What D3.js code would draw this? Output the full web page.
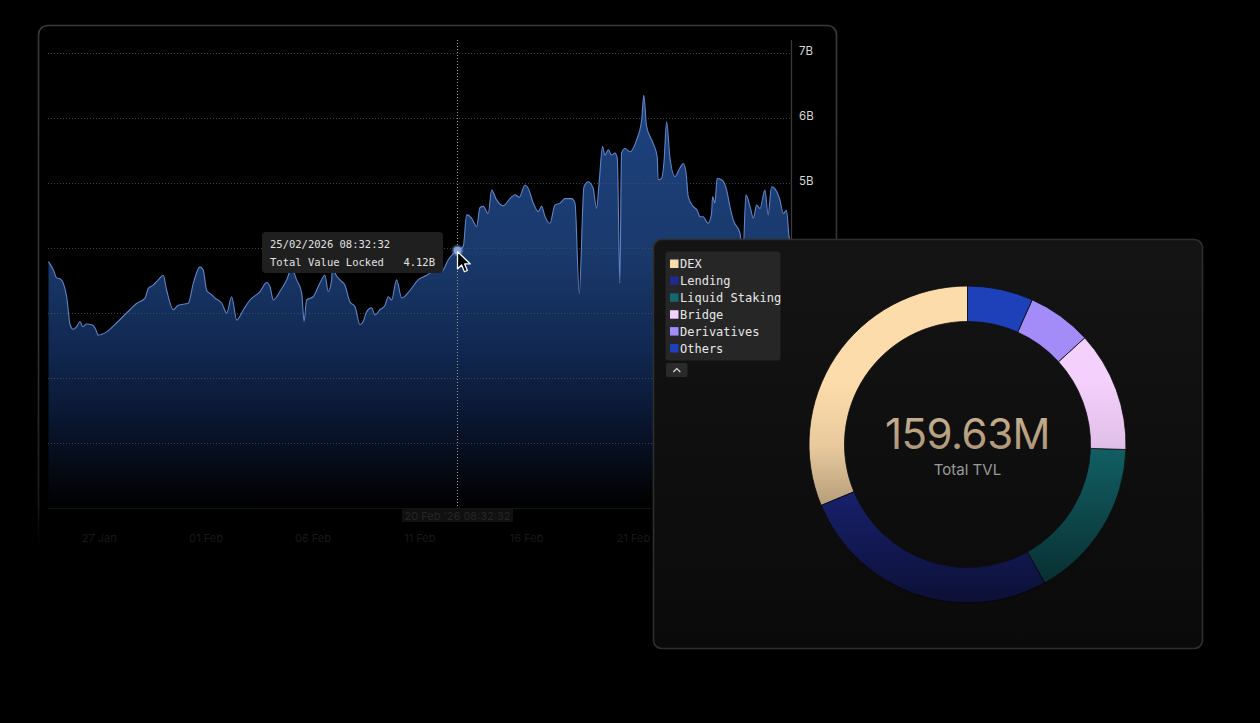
<!DOCTYPE html>
<html><head><meta charset="utf-8">
<script src="https://cdn.jsdelivr.net/npm/d3@7"></script>
<style>html,body{margin:0;padding:0;background:#000;overflow:hidden}svg{display:block}</style>
</head><body>
<svg id="c" width="1260" height="723"></svg>
<script>
// ---------------- DATA ----------------
const startTime = new Date(2026, 0, 24, 15, 30);
const endTime = new Date(2026, 1, 28, 9, 30);
// fractional days since startTime
const tvlDay = [
  0, 0.23, 0.38, 0.57, 0.69, 0.85, 1.01, 1.16, 1.32, 1.47,
  1.60, 1.79, 2.02, 2.18, 2.33, 2.72, 3.19, 3.81, 4.13, 4.52,
  4.67, 4.90, 5.14, 5.37, 5.53, 5.84, 6.07, 6.54, 6.78, 7.09,
  7.24, 7.40, 7.64, 7.79, 8.11, 8.34, 8.57, 8.81, 9.12, 9.43,
  9.90, 10.21, 10.37, 10.52, 10.83, 11.15, 11.38, 11.61, 11.85, 11.96,
  12.08, 12.39, 12.70, 12.94, 13.09, 13.25, 13.30, 13.41, 13.64, 13.87,
  14.11, 14.34, 14.58, 14.73, 14.89, 15.12, 15.28, 15.51, 15.75, 15.90,
  16.06, 16.29, 16.53, 16.92, 17.30, 17.70, 18.01, 18.40, 18.71, 19.10,
  19.41, 19.57, 19.80, 20.04, 20.19, 20.35, 20.58, 20.74, 20.97, 21.28,
  21.60, 21.83, 22.03, 22.30, 22.45, 22.69, 22.92, 23.08, 23.23, 23.47,
  23.70, 23.94, 24.17, 24.48, 24.64, 24.84, 25.06, 25.26, 25.49, 25.65,
  25.77, 25.93, 26.04, 26.20, 26.35, 26.51, 26.62, 26.74, 26.82, 26.98,
  27.21, 27.52, 27.76, 27.86, 27.99, 28.30, 28.49, 28.53, 28.69, 28.80,
  28.93, 29.08, 29.32, 29.55, 29.71, 29.84, 29.94, 30.17, 30.36, 30.49,
  30.64, 30.87, 31.03, 31.08, 31.19, 31.29, 31.50, 31.74, 31.89, 32.05,
  32.36, 32.50, 32.64, 32.83, 32.99, 33.14, 33.30, 33.53, 33.68, 33.84,
  34.08, 34.23, 34.39, 34.54, 34.66, 34.75
];
// total value locked, billions
const tvlValue = [
  3.79, 3.66, 3.54, 3.52, 3.46, 3.25, 2.82, 2.75, 2.79, 2.87,
  2.79, 2.83, 2.82, 2.77, 2.66, 2.71, 2.85, 3.05, 3.15, 3.23,
  3.38, 3.43, 3.51, 3.58, 3.35, 3.05, 3.12, 3.15, 3.46, 3.71,
  3.66, 3.35, 3.28, 3.23, 3.15, 3.00, 3.25, 2.89, 3.05, 3.20,
  3.33, 3.47, 3.40, 3.20, 3.33, 3.51, 3.69, 3.51, 3.31, 2.87,
  3.20, 3.25, 3.46, 3.58, 3.33, 3.51, 3.78, 3.62, 3.51, 3.43,
  3.17, 3.10, 2.82, 2.87, 3.02, 3.08, 2.97, 3.05, 3.12, 3.25,
  3.20, 3.51, 3.23, 3.35, 3.51, 3.58, 3.64, 3.64, 3.82, 3.96,
  4.02, 4.51, 4.46, 4.33, 4.62, 4.64, 4.53, 4.89, 4.74, 4.65,
  4.76, 4.82, 4.78, 4.97, 4.92, 4.69, 4.56, 4.64, 4.49, 4.38,
  4.66, 4.69, 4.76, 4.76, 4.69, 3.30, 4.94, 5.02, 4.92, 4.61,
  5.00, 5.56, 5.43, 5.51, 5.43, 5.46, 5.38, 3.46, 5.46, 5.53,
  5.48, 5.66, 5.97, 6.35, 5.87, 5.61, 5.40, 5.05, 5.07, 5.30,
  5.94, 5.40, 5.10, 5.23, 5.30, 5.15, 4.79, 4.64, 4.58, 4.48,
  4.48, 4.38, 4.53, 4.79, 4.69, 5.07, 5.05, 4.89, 4.64, 4.43,
  4.23, 3.89, 4.82, 4.64, 4.46, 4.66, 4.61, 4.89, 4.51, 4.94,
  4.87, 4.74, 4.53, 4.58, 4.17, 4.05
];
const yTickValues = [1, 2, 3, 4, 5, 6, 7];
const xTickDates = [new Date(2026,0,27), new Date(2026,1,1), new Date(2026,1,6), new Date(2026,1,11), new Date(2026,1,16), new Date(2026,1,21)];
const hoverIndex = 79;
const tooltipDate = "25/02/2026 08:32:32";
const tooltipLabel = "Total Value Locked";
const tooltipValue = "4.12B";
const crosshairLabel = "20 Feb '26 08:32:32";

const categories = ["DEX", "Lending", "Liquid Staking", "Bridge", "Derivatives", "Others"];
const categoryValues = [49.93, 42.83, 26.16, 19.56, 10.47, 10.68];
const categoryColors = ["#fddcab", "#1f2a8c", "#13686d", "#f4d0fc", "#a38cf7", "#1e40b8"];
const totalLabel = "159.63M";
const totalCaption = "Total TVL";

// ---------------- DRAW ----------------
const svg = d3.select("#c");
const defs = svg.append("defs");
const sans = "Inter, Roboto, 'Noto Sans', sans-serif";
const mono = "'DejaVu Sans Mono', 'Liberation Mono', monospace";

const series = tvlDay.map((d, i) => ({ t: new Date(startTime.getTime() + d * 864e5), v: tvlValue[i] }));

const x = d3.scaleTime().domain([startTime, endTime]).range([48.5, 791]);
const y = d3.scaleLinear().domain([0, 7]).range([508, 53]);

// gradients
const ag = defs.append("linearGradient").attr("id", "areaGrad")
  .attr("gradientUnits", "userSpaceOnUse").attr("x1", 0).attr("x2", 0).attr("y1", 90).attr("y2", 508);
[[0, "#1e4280"], [0.38, "#1a3a6d"], [0.62, "#112851"], [0.8, "#09152e"], [0.94, "#03060c"], [1, "#000"]]
  .forEach(s => ag.append("stop").attr("offset", s[0]).attr("stop-color", s[1]));

const bg = defs.append("linearGradient").attr("id", "borderGrad")
  .attr("gradientUnits", "userSpaceOnUse").attr("x1", 0).attr("x2", 0).attr("y1", 25).attr("y2", 560);
[[0, "#3a3a3a", 1], [0.6, "#333", 1], [0.9, "#1a1a1a", 1], [1, "#000", 0]]
  .forEach(s => bg.append("stop").attr("offset", s[0]).attr("stop-color", s[1]).attr("stop-opacity", s[2]));

// left panel
svg.append("rect").attr("x", 38.5).attr("y", 25.5).attr("width", 798).attr("height", 560)
  .attr("rx", 9).attr("fill", "#000").attr("stroke", "url(#borderGrad)").attr("stroke-width", 1.6);

const chart = svg.append("g");

// area
const area = d3.area().x(d => x(d.t)).y0(y(0)).y1(d => y(d.v)).curve(d3.curveMonotoneX);
const line = d3.line().x(d => x(d.t)).y(d => y(d.v)).curve(d3.curveMonotoneX);
chart.append("path").datum(series).attr("d", area).attr("fill", "url(#areaGrad)");

// gridlines (over the area)
chart.selectAll(".grid").data(yTickValues).join("line")
  .attr("x1", 48).attr("x2", 791).attr("y1", d => y(d) + 0.5).attr("y2", d => y(d) + 0.5)
  .attr("stroke", "#4a4f58").attr("stroke-opacity", 0.8).attr("stroke-width", 1).attr("stroke-dasharray", "1,2");
chart.append("line").attr("x1", 48).attr("x2", 791).attr("y1", y(0) + 0.5).attr("y2", y(0) + 0.5)
  .attr("stroke", "#131313");

chart.append("path").datum(series).attr("d", line).attr("fill", "none")
  .attr("stroke", "#5f84c8").attr("stroke-width", 1.1);

// y axis line + labels
chart.append("line").attr("x1", 791.5).attr("x2", 791.5).attr("y1", 40).attr("y2", 508)
  .attr("stroke", "#3c3c3c").attr("stroke-width", 1.2);
const yAxis = d3.axisRight(y).tickValues(yTickValues).tickSize(0).tickPadding(0).tickFormat(d => d + "B");
const yg = chart.append("g").attr("transform", "translate(799,-2)").call(yAxis);
yg.select(".domain").remove();
yg.selectAll("text").attr("fill", "#d6d6d6").attr("font-family", sans).attr("font-size", 11.5);

// x axis labels
const xAxis = d3.axisBottom(x).tickValues(xTickDates).tickSize(0).tickPadding(0).tickFormat(d3.timeFormat("%d %b"));
const xg = chart.append("g").attr("transform", "translate(0,534)").call(xAxis);
xg.select(".domain").remove();
xg.selectAll("text").attr("fill", "#191919").attr("font-family", sans).attr("font-size", 11);

// crosshair
const hp = series[hoverIndex];
const hx = Math.round(x(hp.t)) + 0.5, hy = y(hp.v);
chart.append("line").attr("x1", hx).attr("x2", hx).attr("y1", 40).attr("y2", 508)
  .attr("stroke", "#9a9a9a").attr("stroke-width", 1).attr("stroke-dasharray", "1,2");
chart.append("rect").attr("x", hx - 55.5).attr("y", 509).attr("width", 111).attr("height", 13)
  .attr("fill", "#101010");
chart.append("text").attr("x", hx).attr("y", 519.5).attr("text-anchor", "middle")
  .attr("font-family", sans).attr("font-size", 11).attr("fill", "#262626").text(crosshairLabel);

// hover dot
chart.append("circle").attr("cx", hx).attr("cy", hy).attr("r", 6).attr("fill", "#7f9fd8").attr("opacity", 0.35);
chart.append("circle").attr("cx", hx).attr("cy", hy).attr("r", 4).attr("fill", "#86a4dc");

// tooltip
const tt = chart.append("g");
tt.append("rect").attr("x", 262).attr("y", 232).attr("width", 181).attr("height", 41).attr("rx", 4)
  .attr("fill", "#1f1f1f");
tt.append("text").attr("x", 270).attr("y", 247.5).attr("font-family", mono).attr("font-size", 10.5)
  .attr("fill", "#e2e2e2").text(tooltipDate);
tt.append("text").attr("x", 270).attr("y", 266).attr("font-family", mono).attr("font-size", 10.5)
  .attr("fill", "#e2e2e2").text(tooltipLabel);
tt.append("text").attr("x", 435).attr("y", 266).attr("text-anchor", "end").attr("font-family", mono)
  .attr("font-size", 10.5).attr("fill", "#e2e2e2").text(tooltipValue);

// cursor
svg.append("path")
  .attr("d", "M0,0 L0,16.5 L3.9,12.8 L6.6,19.2 L9.4,18 L6.8,11.8 L12.2,11.8 Z")
  .attr("transform", `translate(${hx},${hy + 1}) scale(1.05)`)
  .attr("fill", "#000").attr("stroke", "#fff").attr("stroke-width", 1.2).attr("stroke-linejoin", "round");

// ---------------- DONUT PANEL ----------------
const pg = defs.append("linearGradient").attr("id", "panelGrad").attr("x1", 0).attr("x2", 0).attr("y1", 0).attr("y2", 1);
pg.append("stop").attr("offset", 0).attr("stop-color", "#141414");
pg.append("stop").attr("offset", 1).attr("stop-color", "#0a0a0a");
svg.append("rect").attr("x", 653.5).attr("y", 239.5).attr("width", 549).attr("height", 409).attr("rx", 8)
  .attr("fill", "url(#panelGrad)").attr("stroke", "#2e2e2e").attr("stroke-width", 1.6);

const cx = 967.5, cy = 444.5, rOut = 158.5, rIn = 123;
const pie = d3.pie().sort(null).startAngle(0).endAngle(-2 * Math.PI).value(d => d);
const arc = d3.arc().innerRadius(rIn).outerRadius(rOut);
const dg = svg.append("g").attr("transform", `translate(${cx},${cy})`);
dg.selectAll("path.seg").data(pie(categoryValues)).join("path").attr("class", "seg")
  .attr("d", arc).attr("fill", (d, i) => categoryColors[i])
  .attr("stroke", "#0e0e0e").attr("stroke-width", 0.8);

const sg = defs.append("linearGradient").attr("id", "shade")
  .attr("gradientUnits", "userSpaceOnUse").attr("x1", 0).attr("x2", 0).attr("y1", -rOut).attr("y2", rOut);
[[0, 0], [0.3, 0.0], [0.5, 0.08], [0.68, 0.27], [0.85, 0.45], [1, 0.62]]
  .forEach(s => sg.append("stop").attr("offset", s[0]).attr("stop-color", "#000").attr("stop-opacity", s[1]));
dg.append("path").attr("d", d3.arc().innerRadius(rIn).outerRadius(rOut + 0.5)({ startAngle: 0, endAngle: 2 * Math.PI }))
  .attr("fill", "url(#shade)");

const tg = defs.append("linearGradient").attr("id", "numGrad").attr("x1", 0).attr("x2", 0).attr("y1", 0).attr("y2", 1);
tg.append("stop").attr("offset", 0).attr("stop-color", "#ccb393");
tg.append("stop").attr("offset", 1).attr("stop-color", "#a89273");
dg.append("text").attr("x", 0).attr("y", 4).attr("text-anchor", "middle")
  .attr("font-family", sans).attr("font-size", 42).attr("font-weight", 400).attr("letter-spacing", -0.5)
  .attr("fill", "url(#numGrad)").text(totalLabel);
dg.append("text").attr("x", 0).attr("y", 30.5).attr("text-anchor", "middle")
  .attr("font-family", sans).attr("font-size", 15).attr("fill", "#9a9a9a").text(totalCaption);

// legend
const lg = svg.append("g");
lg.append("rect").attr("x", 665.5).attr("y", 251.5).attr("width", 115).attr("height", 109).attr("rx", 3)
  .attr("fill", "#262626");
const rows = lg.selectAll("g.row").data(categories).join("g").attr("class", "row")
  .attr("transform", (d, i) => `translate(0,${264 + i * 16.9})`);
rows.append("rect").attr("x", 670).attr("y", -4.5).attr("width", 8.5).attr("height", 8.5)
  .attr("fill", (d, i) => categoryColors[i]);
rows.append("text").attr("x", 680).attr("y", 4.3).attr("font-family", mono).attr("font-size", 12)
  .attr("fill", "#e6e6e6").text(d => d);
lg.append("rect").attr("x", 666).attr("y", 363).attr("width", 21.5).attr("height", 14).attr("rx", 2)
  .attr("fill", "#2a2a2a");
lg.append("path").attr("d", "M673.3,372 L676.8,368.5 L680.3,372").attr("fill", "none")
  .attr("stroke", "#dcdcdc").attr("stroke-width", 1.2);
</script>
</body></html>
